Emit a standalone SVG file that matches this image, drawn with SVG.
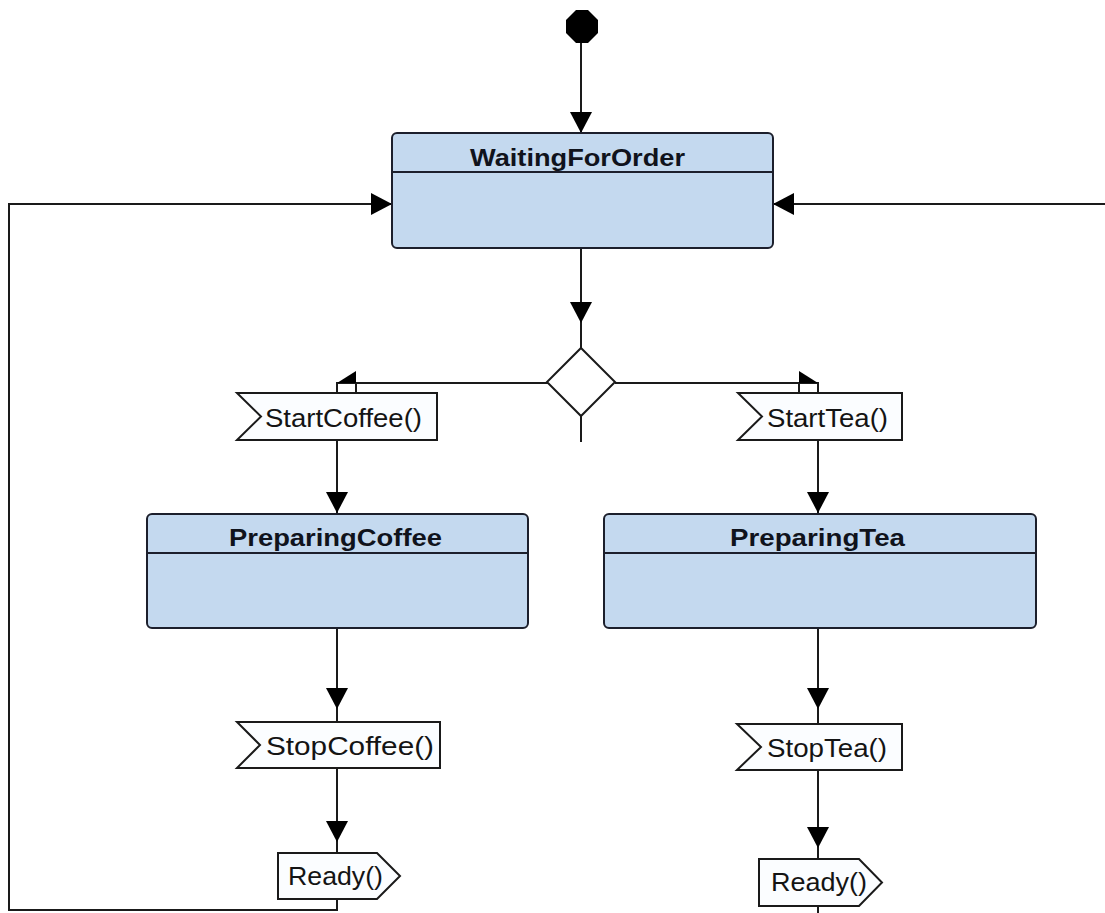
<svg xmlns="http://www.w3.org/2000/svg" xmlns:xlink="http://www.w3.org/1999/xlink" width="1105" height="913" viewBox="0 0 1105 913">
  <style>
    .state{fill:#c4d9ef;stroke:#1c1f2c;stroke-width:2}
    .sep{stroke:#1c1f2c;stroke-width:2}
    .title{font-family:"Liberation Sans",Arial,sans-serif;font-weight:bold;font-size:23px;fill:#10131c}
    .sig{fill:#fbfdff;stroke:#1a1a1a;stroke-width:2;stroke-linejoin:miter}
    .lbl{font-family:"Liberation Sans",Arial,sans-serif;font-size:25px;fill:#141414}
    .conn{fill:none;stroke:#1a1a1a;stroke-width:2}
    .ah{fill:#000}
  </style>
  <defs>
    <path id="ah" d="M0,0 L-11,-21 L11,-21 Z"/>
  </defs>
  <rect width="1105" height="913" fill="#ffffff"/>

  <g id="connectors">
    <path class="conn" d="M581,42 L581,133"/>
    <path class="conn" d="M337,899 L337,910 L9,910 L9,204 L392,204"/>
    <path class="conn" d="M1105,204 L773,204"/>
    <path class="conn" d="M581,248 L581,348"/>
    <path class="conn" d="M581,416 L581,442"/>
    <path class="conn" d="M548,383 L337,383 L337,393"/>
    <path class="conn" d="M356,383 L356,393"/>
    <path class="conn" d="M615,383 L818,383 L818,393"/>
    <path class="conn" d="M799,383 L799,393"/>
    <path class="conn" d="M337,440 L337,514"/>
    <path class="conn" d="M818,440 L818,514"/>
    <path class="conn" d="M337,628 L337,722"/>
    <path class="conn" d="M818,628 L818,724"/>
    <path class="conn" d="M337,768 L337,853"/>
    <path class="conn" d="M818,770 L818,859"/>
    <path class="conn" d="M818,906 L818,913"/>
    <use xlink:href="#ah" class="ah" transform="translate(581,133)"/>
    <use xlink:href="#ah" class="ah" transform="translate(392,204) rotate(-90)"/>
    <use xlink:href="#ah" class="ah" transform="translate(773,204) rotate(90)"/>
    <use xlink:href="#ah" class="ah" transform="translate(581,323)"/>
    <polygon class="ah" points="337,383 356,371 356,383"/>
    <polygon class="ah" points="818,383 799,371 799,383"/>
    <use xlink:href="#ah" class="ah" transform="translate(337,513)"/>
    <use xlink:href="#ah" class="ah" transform="translate(818,513)"/>
    <use xlink:href="#ah" class="ah" transform="translate(337,709)"/>
    <use xlink:href="#ah" class="ah" transform="translate(818,709)"/>
    <use xlink:href="#ah" class="ah" transform="translate(337,842)"/>
    <use xlink:href="#ah" class="ah" transform="translate(818,848)"/>
  </g>

  <g id="initial">
    <polygon points="576,10 588,10 598,20 598,33 588,43 576,43 566,33 566,20" fill="#000"/>
  </g>

  <g id="WaitingForOrder">
    <rect class="state" x="392" y="133" width="381" height="115" rx="5"/>
    <line class="sep" x1="392" y1="172" x2="773" y2="172"/>
    <text class="title" x="470" y="166" textLength="215" lengthAdjust="spacingAndGlyphs">WaitingForOrder</text>
  </g>

  <g id="decision">
    <polygon points="581,348 615,382 581,416 547,382" fill="#ffffff" stroke="#1a1a1a" stroke-width="2"/>
  </g>

  <g id="StartCoffee">
    <polygon class="sig" points="237,393 437,393 437,440 237,440 261,416.5"/>
    <text class="lbl" x="265" y="427" textLength="157" lengthAdjust="spacingAndGlyphs">StartCoffee()</text>
  </g>

  <g id="StartTea">
    <polygon class="sig" points="738,393 902,393 902,440 738,440 762,416.5"/>
    <text class="lbl" x="767" y="427" textLength="121" lengthAdjust="spacingAndGlyphs">StartTea()</text>
  </g>

  <g id="PreparingCoffee">
    <rect class="state" x="147" y="514" width="381" height="114" rx="5"/>
    <line class="sep" x1="147" y1="553" x2="528" y2="553"/>
    <text class="title" x="229" y="546" textLength="213" lengthAdjust="spacingAndGlyphs">PreparingCoffee</text>
  </g>

  <g id="PreparingTea">
    <rect class="state" x="604" y="514" width="432" height="114" rx="5"/>
    <line class="sep" x1="604" y1="553" x2="1036" y2="553"/>
    <text class="title" x="730" y="546" textLength="175" lengthAdjust="spacingAndGlyphs">PreparingTea</text>
  </g>

  <g id="StopCoffee">
    <polygon class="sig" points="237,722 440,722 440,768 237,768 260,745"/>
    <text class="lbl" x="266" y="755" textLength="168" lengthAdjust="spacingAndGlyphs">StopCoffee()</text>
  </g>

  <g id="StopTea">
    <polygon class="sig" points="737,724 902,724 902,770 737,770 761,747"/>
    <text class="lbl" x="767" y="757" textLength="120" lengthAdjust="spacingAndGlyphs">StopTea()</text>
  </g>

  <g id="ReadyCoffee">
    <polygon class="sig" points="278,853 377,853 400,876 377,899 278,899"/>
    <text class="lbl" x="288" y="885" textLength="95" lengthAdjust="spacingAndGlyphs">Ready()</text>
  </g>

  <g id="ReadyTea">
    <polygon class="sig" points="759,859 859,859 882,882.5 859,906 759,906"/>
    <text class="lbl" x="771" y="891" textLength="96" lengthAdjust="spacingAndGlyphs">Ready()</text>
  </g>
</svg>
